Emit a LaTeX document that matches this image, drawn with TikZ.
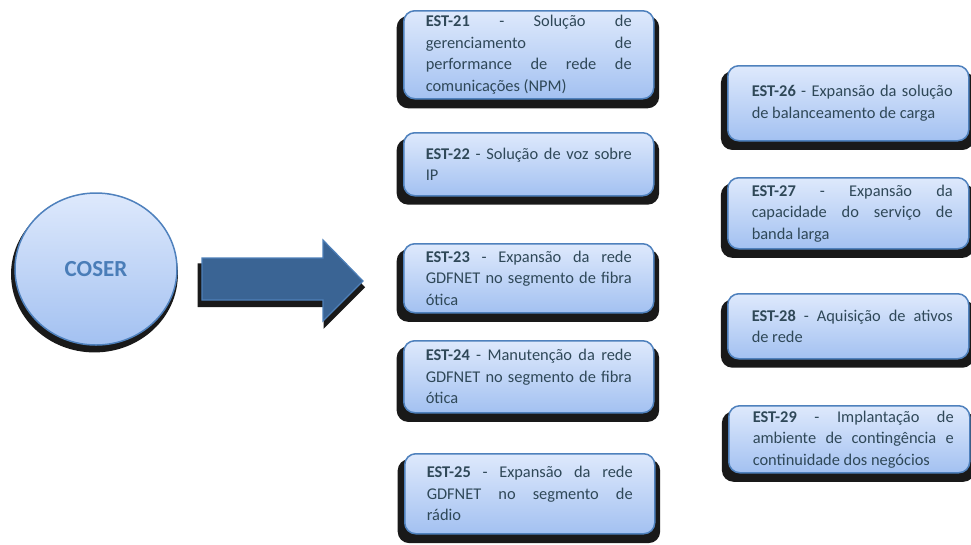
\documentclass[tikz,border=0pt]{standalone}
\usepackage{fontspec}
\setmainfont{Carlito}
\usetikzlibrary{shadows,shapes.geometric}

\definecolor{boxtop}{HTML}{DEE9FC}
\definecolor{boxbot}{HTML}{A3C1F1}
\definecolor{boxline}{HTML}{4F81BD}
\definecolor{txt}{HTML}{2F4858}
\definecolor{arrowfill}{HTML}{3A6494}
\definecolor{arrowline}{HTML}{4D7FB8}
\definecolor{coser}{HTML}{4A7DB8}

% paragraph settings for the justified box texts
\newcommand{\boxpar}{\hyphenpenalty=10000\relax \exhyphenpenalty=10000\relax
  \tolerance=10000\relax \hbadness=10000\relax}

\tikzset{
  itembox/.style={draw=boxline, line width=1.5pt, rounded corners=11pt,
      top color=boxtop, bottom color=boxbot, anchor=north west,
      inner sep=0pt, align=justify, text=txt,
      font=\fontsize{16.4}{21.5}\selectfont,
      execute at begin node=\boxpar,
      drop shadow={shadow scale=1.05, shadow xshift=-0.8pt,
                   shadow yshift=-7pt, fill=black, opacity=0.9}},
  midbox/.style={itembox, minimum width=250pt, text width=206pt},
  rightbox/.style={itembox, minimum width=241pt, text width=209pt,
      execute at begin node={\boxpar\leftskip=8pt\relax}},
}

\begin{document}
\begin{tikzpicture}[x=1pt, y=-1pt]
  \useasboundingbox (0,0) rectangle (971,544);

  % source unit
  \node[ellipse, minimum width=162pt, minimum height=152pt, inner sep=0pt,
        draw=boxline, line width=1.5pt, top color=boxtop, bottom color=boxbot,
        drop shadow={shadow scale=1.03, shadow xshift=-1.5pt,
                     shadow yshift=-5pt, fill=black, opacity=0.9},
        text=coser, font=\fontsize{23}{26}\selectfont\bfseries]
        (coser) at (96,269) {COSER};

  % block arrow towards the projects
  \path[fill=arrowfill, draw=arrowline, line width=1.2pt,
        drop shadow={shadow scale=1.04, shadow xshift=-1pt,
                     shadow yshift=-6pt, fill=black, opacity=0.9}]
        (202,258) -- (323,258) -- (323,240) -- (363,281) -- (323,321)
        -- (323,300) -- (202,300) -- cycle;

  % middle column
  \node[midbox, minimum height=88pt] (e21) at (403,10)
    {\textbf{EST-21} - Solução de\linebreak gerenciamento de\linebreak
     performance de rede de\linebreak comunicações (NPM)};
  \node[midbox, minimum height=63pt] (e22) at (403,132)
    {\textbf{EST-22} - Solução de voz sobre\linebreak IP};
  \node[midbox, minimum height=69pt] (e23) at (403,243)
    {\textbf{EST-23} - Expansão da rede\linebreak GDFNET no segmento de fibra\linebreak ótica};
  \node[midbox, minimum height=72pt] (e24) at (403,340)
    {\textbf{EST-24} - Manutenção da rede\linebreak GDFNET no segmento de fibra\linebreak ótica};
  \node[midbox, minimum height=80pt] (e25) at (404,453)
    {\textbf{EST-25} - Expansão da rede\linebreak GDFNET no segmento de\linebreak rádio};

  % right column
  \node[rightbox, minimum height=75pt] (e26) at (727,65)
    {\textbf{EST-26} - Expansão da solução\linebreak de balanceamento de carga};
  \node[rightbox, minimum height=71pt] (e27) at (727,177)
    {\textbf{EST-27} - Expansão da\linebreak capacidade do serviço de\linebreak banda larga};
  \node[rightbox, minimum height=65pt] (e28) at (727,293)
    {\textbf{EST-28} - Aquisição de ativos\linebreak de rede};
  \node[rightbox, minimum height=67pt] (e29) at (728,405)
    {\textbf{EST-29} - Implantação de\linebreak ambiente de contingência e\linebreak continuidade dos negócios};
\end{tikzpicture}
\end{document}
